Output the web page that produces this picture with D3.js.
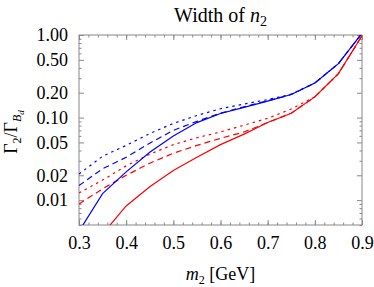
<!DOCTYPE html>
<html>
<head>
<meta charset="utf-8">
<script src="https://cdn.jsdelivr.net/npm/d3@7"></script>
<style>
  body { margin: 0; background: #fff; }
  svg text { font-family: 'Liberation Serif', 'DejaVu Serif', serif; }
</style>
</head>
<body>
<div class="chart"></div>
<script>
// masses m2 in GeV
const masses = [0.3, 0.35, 0.4, 0.45, 0.5, 0.55, 0.6, 0.65, 0.7, 0.75, 0.8, 0.85, 0.9]
// Gamma_2 / Gamma_Bd
const blueSolid  = [0.0042, 0.012, 0.022, 0.038, 0.06, 0.087, 0.112, 0.133, 0.158, 0.19, 0.262, 0.45, 1.05]
const blueDashed = [0.015, 0.024, 0.033, 0.049, 0.07, 0.09, 0.113, 0.135, 0.16, 0.19, 0.262, 0.45, 1.05]
const blueDotted = [0.0207, 0.034, 0.046, 0.064, 0.085, 0.106, 0.128, 0.146, 0.165, 0.192, 0.262, 0.45, 1.05]
const redSolid   = [0.0012, 0.0039, 0.0085, 0.0145, 0.0228, 0.033, 0.047, 0.063, 0.087, 0.113, 0.178, 0.34, 0.98]
const redDashed  = [0.009, 0.0137, 0.02, 0.028, 0.037, 0.046, 0.056, 0.067, 0.087, 0.113, 0.178, 0.34, 0.98]
const redDotted  = [0.0122, 0.0175, 0.026, 0.036, 0.047, 0.057, 0.067, 0.081, 0.098, 0.127, 0.178, 0.34, 0.98]

const xTicks = [0.3, 0.4, 0.5, 0.6, 0.7, 0.8, 0.9]
const yTicks = [0.01, 0.02, 0.05, 0.1, 0.2, 0.5, 1]

const series = [
    { vals: redSolid, color: '#ff0000', dash: null },
    { vals: redDashed, color: '#ff0000', dash: '6,4' },
    { vals: redDotted, color: '#ff0000', dash: '2.5,4' },
    { vals: blueSolid, color: '#0000ff', dash: null },
    { vals: blueDashed, color: '#0000ff', dash: '6,4' },
    { vals: blueDotted, color: '#0000ff', dash: '2.5,4' }
]

const width = 374, height = 287
const margin = { left: 79, right: 12, top: 35, bottom: 62 }
const w = width - margin.left - margin.right
const h = height - margin.top - margin.bottom

const x = d3.scaleLinear().domain([0.3, 0.9]).range([0, w])
const y = d3.scaleLog().domain([0.005, 1]).range([h, 0])

const svg = d3.select('.chart').append('svg')
    .attr('width', width)
    .attr('height', height)

const g = svg.append('g')
    .attr('transform', `translate(${margin.left},${margin.top})`)

g.append('clipPath').attr('id', 'clip')
    .append('rect').attr('width', w).attr('height', h)

// minor ticks
const xMinor = d3.range(0.3, 0.9001, 0.02).map(v => +v.toFixed(2))
const yMinor = []
;[0.001, 0.01, 0.1].forEach(p => d3.range(1, 10).forEach(k => {
    const v = +(k * p).toPrecision(2)
    if (v >= 0.005 && v <= 1 && !yTicks.includes(v)) yMinor.push(v)
}))

const frameColor = '#888'
const axes = [
    { ax: d3.axisBottom(x), tr: `translate(0,${h})`, labels: true },
    { ax: d3.axisTop(x), tr: 'translate(0,0)', labels: false },
]
const addAxis = (axis, tr, vals, len, labels, fmt) => {
    const a = g.append('g').attr('transform', tr)
        .call(axis.tickValues(vals).tickSizeInner(-len).tickSizeOuter(0)
            .tickPadding(len + 6).tickFormat(labels ? fmt : ''))
    a.select('.domain').remove()
    a.selectAll('line').attr('stroke', frameColor)
    a.selectAll('text').attr('font-size', 18).attr('fill', '#000')
    return a
}
const fx = d3.format('.1f'), fy = d3.format('.2f')
addAxis(d3.axisBottom(x), `translate(0,${h})`, xTicks, 5, true, fx)
addAxis(d3.axisBottom(x), `translate(0,${h})`, xMinor, 2.5, false)
addAxis(d3.axisTop(x), 'translate(0,0)', xTicks, 5, false)
addAxis(d3.axisTop(x), 'translate(0,0)', xMinor, 2.5, false)
addAxis(d3.axisLeft(y), 'translate(0,0)', yTicks, 5, true, fy)
addAxis(d3.axisLeft(y), 'translate(0,0)', yMinor, 2.5, false)
addAxis(d3.axisRight(y), `translate(${w},0)`, yTicks, 5, false)
addAxis(d3.axisRight(y), `translate(${w},0)`, yMinor, 2.5, false)

g.append('rect')
    .attr('width', w).attr('height', h)
    .attr('fill', 'none').attr('stroke', frameColor).attr('stroke-width', 1)

const line = d3.line()
    .x((d, i) => x(masses[i]))
    .y(d => y(d))

g.append('g').attr('clip-path', 'url(#clip)')
    .selectAll('path')
    .data(series)
    .enter()
    .append('path')
    .attr('d', d => line(d.vals))
    .attr('fill', 'none')
    .attr('stroke', d => d.color)
    .attr('stroke-width', 1.2)
    .attr('stroke-dasharray', d => d.dash)

// title
const title = svg.append('text')
    .attr('x', margin.left + w / 2).attr('y', 22)
    .attr('text-anchor', 'middle').attr('font-size', 20)
title.append('tspan').text('Width of ')
title.append('tspan').attr('font-style', 'italic').text('n')
title.append('tspan').attr('font-size', 14).attr('dy', 4).text('2')

// x label
const xl = svg.append('text')
    .attr('x', margin.left + w / 2).attr('y', 280)
    .attr('text-anchor', 'middle').attr('font-size', 18)
xl.append('tspan').attr('font-style', 'italic').text('m')
xl.append('tspan').attr('font-size', 12).attr('dy', 4).text('2')
xl.append('tspan').attr('dy', -4).text(' [GeV]')

// y label
const yl = svg.append('text')
    .attr('transform', `translate(17,${margin.top + 97}) rotate(-90)`)
    .attr('text-anchor', 'middle').attr('font-size', 18)
yl.append('tspan').text('Γ')
yl.append('tspan').attr('font-size', 12).attr('dy', 4).text('2')
yl.append('tspan').attr('dy', -4).text('/Γ')
yl.append('tspan').attr('font-size', 12).attr('dy', 4).attr('font-style', 'italic').text('B')
yl.append('tspan').attr('font-size', 9).attr('dy', 3).attr('font-style', 'italic').text('d')
</script>
</body>
</html>
